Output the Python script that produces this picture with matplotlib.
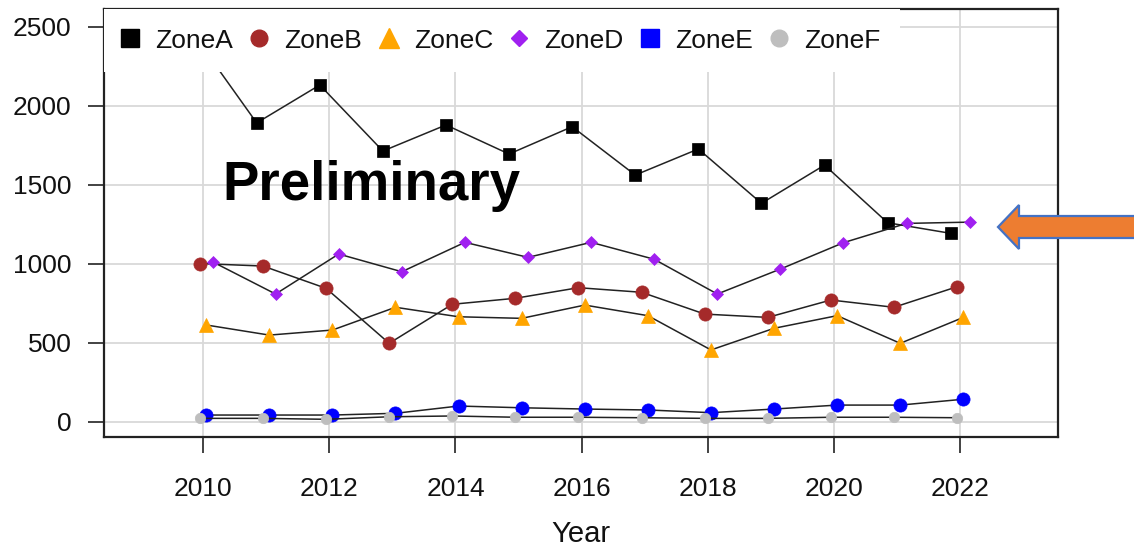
import matplotlib
matplotlib.use("Agg")
import matplotlib.pyplot as plt
from matplotlib.lines import Line2D
from matplotlib.patches import Polygon

# ---- data ----
years = list(range(2010, 2023))
zone_a = [2450, 1890, 2130, 1712, 1877, 1693, 1866, 1560, 1725, 1381, 1623, 1258, 1191]
zone_b = [1000, 984, 843, 495, 742, 780, 847, 818, 680, 659, 769, 723, 853]
zone_c = [611, 547, 579, 723, 663, 653, 737, 670, 453, 590, 670, 495, 659]
zone_d = [1011, 807, 1060, 948, 1134, 1039, 1134, 1027, 807, 965, 1132, 1254, 1262]
zone_e = [41, 41, 41, 52, 98, 87, 79, 73, 56, 79, 104, 104, 141]
zone_f = [20, 20, 14, 30, 35, 27, 27, 24, 20, 20, 27, 27, 24]
series_names = ["ZoneA", "ZoneB", "ZoneC", "ZoneD", "ZoneE", "ZoneF"]
x_ticks = [2010, 2012, 2014, 2016, 2018, 2020, 2022]
y_ticks = [0, 500, 1000, 1500, 2000, 2500]
x_label = "Year"
note_text = "Preliminary"

# ---- styles ----
values = [zone_a, zone_b, zone_c, zone_d, zone_e, zone_f]
colors = ["#000000", "#A52A2A", "#FFA500", "#A020F0", "#0000FF", "#BEBEBE"]
markers = ["s", "o", "^", "D", "o", "o"]
msizes = [8.5, 9.5, 10.5, 6.0, 9.5, 7.5]
dodge = [-0.15, -0.05, 0.05, 0.15, 0.05, -0.05]
leg_markers = ["s", "o", "^", "D", "s", "o"]
leg_sizes = [13, 12, 15, 8, 13, 12]

plt.rcParams["font.family"] = ["Liberation Sans", "DejaVu Sans"]
txt_color = "#111111"

fig = plt.figure(figsize=(11.34, 5.5), dpi=100)
W, H = 1134, 550
ax = fig.add_axes([104 / W, 1 - 437 / H, (1058 - 104) / W, (437 - 9) / H])

for vals, c, m, ms, dx in zip(values, colors, markers, msizes, dodge):
    xs = [y + dx for y in years]
    ax.plot(xs, vals, color="#222222", lw=1.1, zorder=3,
            marker=m, ms=ms, markerfacecolor=c, markeredgecolor=c,
            markeredgewidth=0.5)

ax.set_xlim(2008.43, 2023.55)
ax.set_ylim(-98, 2611)
ax.set_xticks(x_ticks)
ax.set_yticks(y_ticks)
ax.grid(True, color="#d9d9d9", lw=1.3, zorder=0)
ax.set_axisbelow(True)
for s in ax.spines.values():
    s.set_linewidth(1.6)
    s.set_color("#222222")
ax.tick_params(axis="both", length=11.5, width=1.2, color="#222222",
               labelsize=19, labelcolor=txt_color)
ax.tick_params(axis="y", pad=12)
ax.tick_params(axis="x", pad=17.5)
ax.set_xlabel(x_label, fontsize=21, color=txt_color, labelpad=13.5)

ax.text(2010.3, 1405, note_text, fontsize=39.3, fontweight="bold",
        color="black", ha="left", va="baseline", zorder=4)

handles = [Line2D([], [], ls="none", marker=m, ms=s, markerfacecolor=c,
                  markeredgecolor=c)
           for m, s, c in zip(leg_markers, leg_sizes, colors)]
leg = ax.legend(handles, series_names, loc="upper left", ncol=6,
                fontsize=19, frameon=True, fancybox=False,
                borderaxespad=0, borderpad=0.74, handlelength=0.5,
                handletextpad=0.7, columnspacing=0.75)
leg.get_frame().set_facecolor("white")
leg.get_frame().set_edgecolor("none")
leg.get_frame().set_alpha(1)
leg.set_zorder(6)
for t in leg.get_texts():
    t.set_color(txt_color)

# orange block arrow (figure pixel positions)
pts = [(998, 227), (1019, 205), (1019, 216), (1140, 216),
       (1140, 238), (1019, 238), (1019, 249)]
arrow = Polygon([(x / W, 1 - y / H) for x, y in pts], closed=True,
                transform=fig.transFigure, facecolor="#ED7D31",
                edgecolor="#4472C4", lw=1.6, zorder=10)
fig.patches.append(arrow)

fig.savefig("out.png", dpi=100, facecolor="white")
